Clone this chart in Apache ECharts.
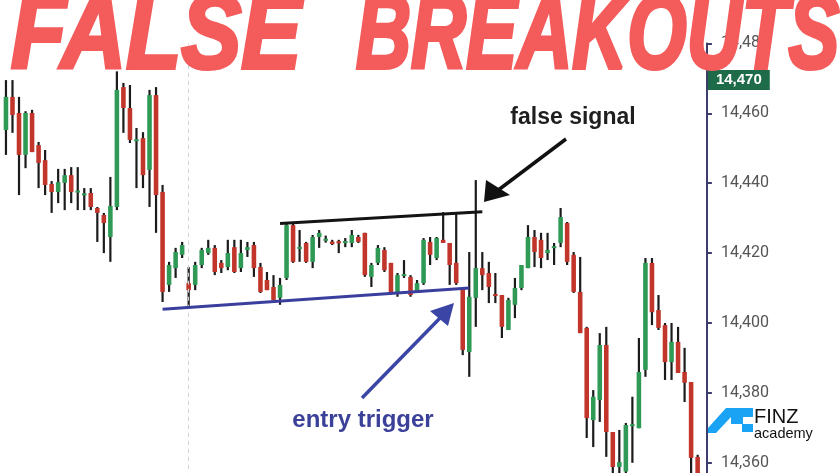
<!DOCTYPE html>
<html>
<head>
<meta charset="utf-8">
<script src="https://cdn.jsdelivr.net/npm/echarts@6/dist/echarts.min.js"></script>
<style>
html,body{margin:0;padding:0;background:#fff;}
#chart{width:840px;height:473px;}
</style>
</head>
<body>
<div id="chart"></div>
<script>
// ---- data ----
var categories = [];
for (var k = 1; k <= 107; k++) categories.push(String(k));

var openVals = [14455.2,14464.7,14460.1,14448.1,14460.1,14450.9,14446.6,14439.8,14437.5,14440.1,
14442.3,14437.4,14436.6,14437.2,14432.9,14430.9,14424.6,14433.2,14467.5,14461.5,
14452.0,14452.9,14443.8,14465.2,14437.5,14410.9,14415.7,14419.5,14411.4,14410.9,
14416.6,14420.0,14421.5,14417.2,14416.0,14421.7,14415.7,14420.9,14422.3,14416.0,
14412.3,14410.3,14407.2,14412.9,14428.0,14421.2,14422.9,14417.5,14424.6,14423.6,
14423.3,14423.4,14422.9,14422.9,14424.6,14425.8,14413.2,14417.2,14420.9,14417.2,
14408.6,14413.5,14413.2,14408.9,14411.4,14423.2,14418.6,14423.8,14422.9,14417.2,
14410.0,14391.7,14407.2,14415.7,14414.3,14408.2,14408.0,14398.0,14405.2,14410.0,
14415.7,14424.6,14423.8,14420.0,14421.5,14422.9,14428.6,14419.5,14408.9,14398.6,
14372.2,14378.0,14393.7,14368.8,14358.8,14357.5,14370.5,14369.9,14386.6,14417.2,
14403.7,14399.4,14388.8,14394.6,14386.0,14383.1,14361.7];
var closeVals = [14464.7,14459.5,14448.1,14460.1,14448.9,14445.8,14439.5,14437.5,14440.3,14442.3,
14437.5,14437.8,14437.0,14433.2,14431.5,14428.6,14433.5,14466.7,14461.5,14452.4,
14452.6,14442.3,14465.2,14436.6,14408.9,14416.6,14420.3,14422.3,14409.4,14416.6,
14420.9,14421.5,14414.6,14415.7,14420.0,14414.6,14420.0,14421.7,14415.7,14408.9,
14409.4,14406.6,14410.9,14428.0,14417.5,14421.8,14417.5,14424.6,14425.8,14424.0,
14422.6,14422.8,14423.4,14425.2,14423.2,14413.7,14416.6,14421.5,14415.1,14408.6,
14413.7,14413.9,14408.0,14411.4,14423.8,14419.5,14424.3,14422.9,14416.6,14411.4,
14392.3,14407.5,14415.7,14413.7,14410.3,14407.8,14398.9,14406.6,14410.0,14416.6,
14424.6,14420.3,14418.6,14420.9,14421.9,14430.3,14417.5,14408.9,14397.1,14372.8,
14378.9,14393.7,14368.8,14358.8,14360.2,14370.8,14371.0,14386.0,14417.2,14403.1,
14398.6,14388.8,14394.6,14385.7,14382.9,14361.4,14355.0];
var lowVals = [14448.1,14454.4,14436.6,14444.3,14448.9,14438.6,14436.6,14431.5,14434.3,14432.3,
14434.3,14432.3,14432.3,14432.3,14423.2,14420.0,14417.5,14432.3,14454.4,14451.5,
14438.6,14438.6,14433.2,14425.8,14406.0,14408.9,14412.9,14418.6,14404.3,14409.4,
14415.7,14419.5,14413.7,14414.3,14415.1,14414.3,14414.6,14418.9,14413.2,14408.6,
14409.4,14406.6,14405.2,14412.3,14417.2,14417.5,14417.2,14415.7,14421.5,14423.0,
14422.3,14420.0,14421.7,14421.7,14422.9,14413.2,14410.3,14416.6,14414.6,14408.6,
14407.5,14412.9,14407.5,14408.6,14410.9,14416.6,14418.0,14422.9,14410.9,14410.9,
14390.8,14384.6,14398.9,14409.4,14405.7,14405.7,14395.7,14398.0,14401.4,14409.4,
14415.7,14416.0,14415.7,14418.0,14416.6,14421.7,14416.6,14408.6,14397.1,14367.1,
14364.5,14371.7,14361.7,14350.0,14353.0,14352.0,14360.0,14369.9,14384.6,14399.4,
14398.0,14383.7,14383.7,14385.7,14377.4,14352.0,14348.0];
var highVals = [14469.5,14469.5,14464.7,14460.6,14461.0,14451.8,14449.5,14440.6,14444.1,14444.1,
14444.6,14444.6,14438.6,14438.6,14433.2,14431.5,14441.8,14472.0,14468.7,14468.1,
14455.8,14454.6,14466.7,14467.5,14439.5,14417.5,14421.5,14423.2,14416.0,14417.5,
14421.5,14423.8,14422.3,14418.0,14423.8,14423.8,14423.8,14423.2,14423.2,14417.2,
14414.6,14413.7,14412.9,14428.6,14428.6,14426.6,14423.2,14425.2,14426.6,14425.0,
14423.8,14423.8,14424.3,14426.6,14425.2,14425.8,14417.2,14422.3,14421.7,14417.2,
14414.3,14418.0,14413.7,14412.3,14424.3,14424.6,14424.6,14431.7,14422.9,14431.5,
14410.0,14420.3,14440.9,14420.3,14417.5,14414.3,14408.0,14407.2,14412.9,14416.6,
14428.0,14426.6,14425.8,14425.8,14422.9,14432.9,14428.9,14420.3,14418.9,14398.9,
14380.8,14397.1,14398.9,14368.8,14369.4,14371.4,14378.9,14395.7,14418.6,14418.6,
14408.0,14400.0,14400.0,14398.9,14392.9,14383.1,14362.3];

// annotation lines in data space: [category index, price]
var resistanceLine = [[41.7, 14428.5], [72.6, 14431.8]];
var supportLine = [[23.75, 14403.9], [70.8, 14410.0]];
var dashedMarkerIndex = 28;
var lastPrice = 14469.5;
var lastPriceLabel = '14,470';

var yMin = 14340, yMax = 14480, yStep = 20;

var GREEN = '#2f9a55', RED = '#c2352b', WICK = '#1b1b1b';

var candleData = openVals.map(function (o, i) {
  return [i, o, closeVals[i], lowVals[i], highVals[i]];
});

var chart = echarts.init(document.getElementById('chart'), null, {renderer: 'canvas'});

var option = {
  animation: false,
  backgroundColor: '#ffffff',
  grid: {left: 2.7, width: 698.2, top: 43.4, height: 489.3, containLabel: false, outerBoundsMode: 'none'},
  xAxis: {
    type: 'category', data: categories, boundaryGap: true,
    axisLine: {show: false}, axisTick: {show: false}, axisLabel: {show: false},
    splitLine: {show: false}
  },
  yAxis: {
    type: 'value', position: 'right', offset: 6,
    min: yMin, max: yMax, interval: yStep,
    axisLine: {show: true, lineStyle: {color: '#3d3d6b', width: 2}},
    axisTick: {show: true, inside: false, length: 5, lineStyle: {color: '#3d3d6b', width: 2}},
    axisLabel: {
      margin: 14, color: '#555555', fontSize: 16, fontFamily: 'Roboto, "Liberation Sans", sans-serif',
      formatter: function (v) { return Math.round(v).toLocaleString('en-US'); }
    },
    splitLine: {show: false}
  },
  series: [
    {
      type: 'custom',
      name: 'price',
      data: candleData,
      encode: {x: 0, y: [1, 2, 3, 4]},
      clip: false,
      z: 3,
      renderItem: function (params, api) {
        var x = api.value(0);
        var o = api.value(1), c = api.value(2), l = api.value(3), h = api.value(4);
        var pO = api.coord([x, o]), pC = api.coord([x, c]);
        var pL = api.coord([x, l]), pH = api.coord([x, h]);
        var bw = api.size([1, 0])[0] * 0.7;
        var top = Math.min(pO[1], pC[1]), bot = Math.max(pO[1], pC[1]);
        if (bot - top < 2) { var m = (top + bot) / 2; top = m - 1; bot = m + 1; }
        var up = c >= o;
        return {
          type: 'group',
          children: [
            {type: 'rect', shape: {x: pH[0] - 1.1, y: pH[1], width: 2.2, height: pL[1] - pH[1]},
              style: {fill: WICK}},
            {type: 'rect', shape: {x: pO[0] - bw / 2, y: top, width: bw, height: bot - top},
              style: {fill: up ? GREEN : RED}}
          ]
        };
      },
      markLine: {
        silent: true, symbol: 'none', animation: false,
        data: [
          {xAxis: dashedMarkerIndex, lineStyle: {color: '#cfcfcf', type: [4, 4], width: 1}, label: {show: false}}
        ]
      }
    },
    {
      type: 'line', name: 'resistance', data: resistanceLine, symbol: 'none', z: 5,
      lineStyle: {color: '#141414', width: 3},
      markLine: {
        silent: true, symbol: 'none', animation: false,
        data: [
          {yAxis: lastPrice, lineStyle: {color: 'rgba(255,255,255,0)', width: 0.1, opacity: 1},
            label: {show: true, position: 'end', distance: 7, formatter: lastPriceLabel, opacity: 1,
              color: '#ffffff', fontWeight: 'bold', fontSize: 15, backgroundColor: '#1d6b48',
              padding: [3, 8, 2, 8], fontFamily: '"Liberation Sans", sans-serif'}}
        ]
      }
    },
    {
      type: 'line', name: 'support', data: supportLine, symbol: 'none', z: 5,
      lineStyle: {color: '#3a3f9e', width: 3}
    }
  ],
  graphic: [
    // false signal annotation
    {type: 'text', x: 573, y: 118, z: 50, style: {text: 'false signal', fill: '#1e1e1e',
      fontSize: 23, fontWeight: 'bold', fontFamily: '"Liberation Sans", sans-serif',
      align: 'center', verticalAlign: 'middle'}},
    {type: 'line', z: 50, shape: {x1: 566, y1: 139, x2: 497, y2: 191}, style: {stroke: '#111', lineWidth: 3.5}},
    {type: 'polygon', z: 50, shape: {points: [[484, 202], [486, 180], [510, 195]]}, style: {fill: '#111'}},
    // entry trigger annotation
    {type: 'text', x: 363, y: 420, z: 50, style: {text: 'entry trigger', fill: '#3b4199',
      fontSize: 24, fontWeight: 'bold', fontFamily: '"Liberation Sans", sans-serif',
      align: 'center', verticalAlign: 'middle'}},
    {type: 'line', z: 50, shape: {x1: 362, y1: 398, x2: 442, y2: 316}, style: {stroke: '#3a45a5', lineWidth: 3.5}},
    {type: 'polygon', z: 50, shape: {points: [[454, 303], [430, 311], [448, 326]]}, style: {fill: '#3a45a5'}},
    // title
    {type: 'text', x: 11, y: -14, scaleX: 0.85, z: 100, style: {text: 'FALSE', fill: '#f45b5b',
      stroke: '#f45b5b', lineWidth: 4,
      fontSize: 106, fontWeight: 'bold', fontStyle: 'italic', fontFamily: '"Liberation Sans", sans-serif',
      verticalAlign: 'top'}},
    {type: 'text', x: 356, y: -14, scaleX: 0.72, z: 100, style: {text: 'BREAKOUTS', fill: '#f45b5b',
      stroke: '#f45b5b', lineWidth: 4,
      fontSize: 106, fontWeight: 'bold', fontStyle: 'italic', fontFamily: '"Liberation Sans", sans-serif',
      verticalAlign: 'top'}},
    // logo
    {type: 'polygon', z: 60, shape: {points: [[726, 408], [753, 408], [753, 417], [731, 417], [716, 433], [708, 433], [708, 428]]},
      style: {fill: '#1aa3f5'}},
    {type: 'rect', z: 60, shape: {x: 731, y: 417, width: 12, height: 7}, style: {fill: '#1aa3f5'}},
    {type: 'rect', z: 60, shape: {x: 742, y: 424, width: 11, height: 8}, style: {fill: '#1aa3f5'}},
    {type: 'text', z: 60, x: 754, y: 417, style: {text: 'FINZ', fill: '#111', fontSize: 20,
      fontFamily: '"Liberation Sans", sans-serif', verticalAlign: 'middle'}},
    {type: 'text', z: 60, x: 754, y: 434, style: {text: 'academy', fill: '#111', fontSize: 14.5,
      fontFamily: '"Liberation Sans", sans-serif', verticalAlign: 'middle'}}
  ]
};

chart.setOption(option);
</script>
</body>
</html>
